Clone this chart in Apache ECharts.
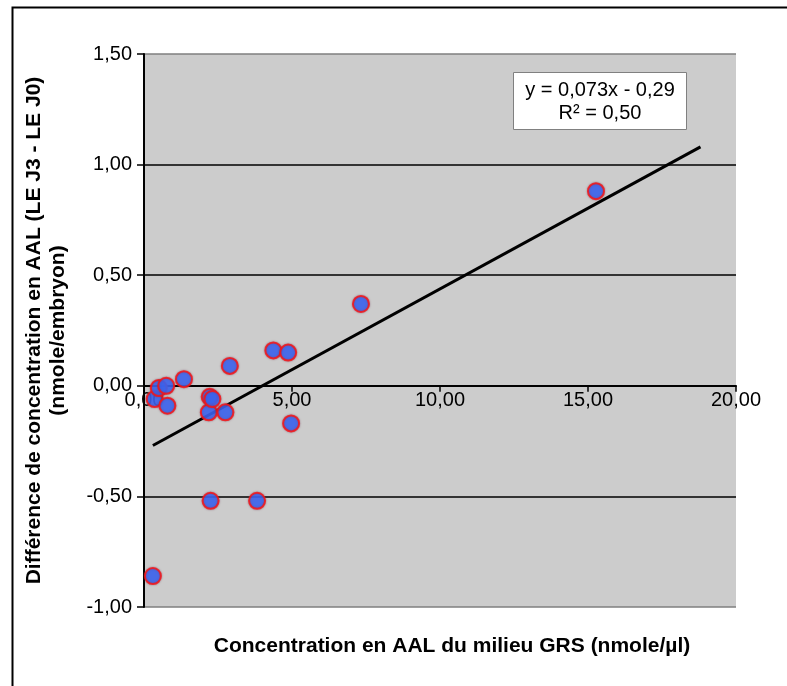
<!DOCTYPE html>
<html>
<head>
<meta charset="utf-8">
<script src="https://cdn.jsdelivr.net/npm/echarts@6/dist/echarts.min.js"></script>
<style>
  html, body { margin: 0; padding: 0; background: #fff; }
  #chart { width: 787px; height: 686px; }
</style>
</head>
<body>
<div id="chart"></div>
<script>
// concentration AAL du milieu (x) vs différence LE J3 - LE J0 (y)
const concMilieu = [0.30, 0.36, 0.50, 0.75, 0.79, 1.35, 2.19, 2.22, 2.25, 2.31, 2.75, 2.90, 3.82, 4.37, 4.87, 4.97, 7.33, 15.27];
const diffConc = [-0.86, -0.06, -0.01, 0.00, -0.09, 0.03, -0.12, -0.05, -0.52, -0.06, -0.12, 0.09, -0.52, 0.16, 0.15, -0.17, 0.37, 0.88];

// courbe de tendance (extrémités)
const trendX = [0.30, 18.80];
const trendY = [-0.27, 1.08];

const xTicks = [0, 5, 10, 15, 20];
const yTicks = [-1.0, -0.5, 0, 0.5, 1.0, 1.5];

const equation = 'y = 0,073x - 0,29';
const rSquared = 'R² = 0,50';

const fmt = v => v.toFixed(2).replace('.', ',');
const font = '"Liberation Sans", Arial, sans-serif';

const gridH = 553;
const yMin = yTicks[0], yMax = yTicks[yTicks.length - 1];
// l'axe des x croise à y = 0 (étiquettes comprises)
const xAxisOffset = -gridH * (0 - yMin) / (yMax - yMin);

const chart = echarts.init(document.getElementById('chart'));

// lignes de grille : bords gris, lignes internes noires
const gridColors = yTicks.map((v, i) => (i === 0 || i === yTicks.length - 1) ? '#7f7f7f' : '#000');

chart.setOption({
  backgroundColor: '#fff',
  animation: false,
  grid: {
    left: 144, top: 54, width: 592, height: gridH,
    show: true,
    backgroundColor: '#cccccc',
    borderWidth: 0
  },
  xAxis: {
    type: 'value',
    position: 'bottom',
    offset: xAxisOffset,
    min: xTicks[0], max: xTicks[xTicks.length - 1], interval: 5,
    axisLine: { onZero: false, lineStyle: { color: '#000', width: 2 } },
    axisTick: { show: true, length: 6, lineStyle: { color: '#000', width: 1.5 } },
    axisLabel: { formatter: fmt, color: '#000', fontSize: 20, fontFamily: font, margin: 5 },
    splitLine: { show: false }
  },
  yAxis: {
    type: 'value',
    min: yMin, max: yMax, interval: 0.5,
    name: 'Différence de concentration en AAL (LE J3 - LE J0)\n(nmole/embryon)',
    nameLocation: 'middle',
    nameRotate: 90,
    nameGap: 74,
    nameTextStyle: { fontSize: 21, fontWeight: 'bold', fontFamily: font, color: '#000', lineHeight: 24 },
    axisLine: { lineStyle: { color: '#000', width: 2 } },
    axisTick: { show: true, length: 7, lineStyle: { color: '#000', width: 1.5 } },
    axisLabel: { formatter: fmt, color: '#000', fontSize: 20, fontFamily: font, margin: 12 },
    splitLine: { show: true, lineStyle: { color: gridColors, width: 1.5 } }
  },
  series: [
    {
      type: 'line',
      data: trendX.map((x, i) => [x, trendY[i]]),
      symbol: 'none',
      lineStyle: { color: '#000', width: 3 },
      z: 2
    },
    {
      type: 'scatter',
      data: concMilieu.map((x, i) => [x, diffConc[i]]),
      symbol: 'circle',
      symbolSize: 16,
      itemStyle: {
        color: '#3366ff',
        borderColor: '#ff1010',
        borderWidth: 2,
        shadowBlur: 2,
        shadowColor: 'rgba(120, 60, 90, 0.7)'
      },
      z: 3
    }
  ],
  graphic: [
    {
      type: 'rect',
      left: 10, top: 5,
      shape: { width: 800, height: 700 },
      style: { fill: 'none', stroke: '#000', lineWidth: 2 },
      silent: true
    },
    {
      type: 'group',
      left: 513, top: 72,
      children: [
        {
          type: 'rect',
          shape: { width: 173, height: 57 },
          style: { fill: '#fff', stroke: '#808080', lineWidth: 1 }
        },
        {
          type: 'text',
          x: 86.5, y: 29,
          style: {
            text: equation + '\n' + rSquared,
            fontSize: 20, fontFamily: font, fill: '#000',
            align: 'center', verticalAlign: 'middle', lineHeight: 23
          }
        }
      ]
    },
    {
      type: 'text',
      x: 452, y: 646,
      style: {
        text: 'Concentration en AAL du milieu GRS (nmole/µl)',
        fontSize: 21, fontWeight: 'bold', fontFamily: font, fill: '#000',
        align: 'center', verticalAlign: 'middle'
      }
    }
  ]
});
</script>
</body>
</html>
